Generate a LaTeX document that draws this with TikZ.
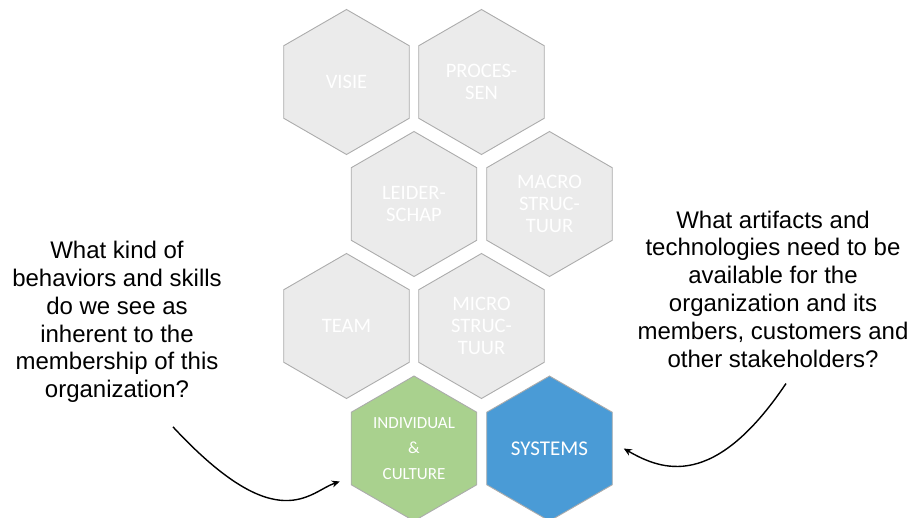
\documentclass[tikz,border=0pt]{standalone}
\usepackage{fontspec}
\setmainfont{Liberation Sans}
\newfontfamily\hexfont{Carlito}
\usetikzlibrary{shapes.geometric,arrows.meta}
\definecolor{hexgrey}{RGB}{235,235,235}
\definecolor{hexedge}{RGB}{172,172,172}
\definecolor{culturegreen}{RGB}{169,209,142}
\definecolor{systemsblue}{RGB}{74,155,214}

\begin{document}
\begin{tikzpicture}[x=1pt, y=-1pt,
    hexcell/.style={regular polygon, regular polygon sides=6, shape border rotate=30, minimum size=145pt, inner sep=0pt, draw=hexedge, line width=0.9pt, text=white, align=center, font=\hexfont\fontsize{20.5}{22.4}\selectfont},
    greyhex/.style={hexcell, fill=hexgrey},
    question/.style={align=center, inner sep=0pt, font=\fontsize{24}{27.8}\selectfont},
    pointer/.style={-{Stealth[length=8pt,width=7pt]}, line width=1.4pt}
  ]
    \useasboundingbox (0,0) rectangle (916,517);

    % Hexagon grid
    \node[greyhex] (visie) at (346.5,82) {VISIE};
    \node[greyhex] (processen) at (481.5,82) {PROCES-\\SEN};

    \node[greyhex] (leiderschap) at (414,204) {LEIDER-\\SCHAP};
    \node[greyhex] (macro) at (549.5,204) {MACRO\\STRUC-\\TUUR};

    \node[greyhex] (team) at (346.5,326) {TEAM};
    \node[greyhex] (micro) at (481.5,326) {MICRO\\STRUC-\\TUUR};

    \node[hexcell, fill=culturegreen, font=\hexfont\fontsize{17}{25.5}\selectfont] (individual) at (414,448.5) {INDIVIDUAL\\\&\\CULTURE};
    \node[hexcell, fill=systemsblue, font=\hexfont\fontsize{21}{24}\selectfont] (systems) at (549.5,448.5) {SYSTEMS};

    % Questions
    \node[question] (qculture) at (117,322) {What kind of\\behaviors and skills\\do we see as\\inherent to the\\membership of this\\organization?};
    \node[question] (qsystems) at (773,289) {What artifacts and\\technologies need to be\\available for the\\organization and its\\members, customers and\\other stakeholders?};

    % Arrows
    \draw[pointer] ([shift={(56,24)}]qculture.south) .. controls +(105,113) and +(-30,10) .. ([shift={(-11,33)}]individual.west);
    \draw[pointer] ([shift={(13,16)}]qsystems.south) .. controls +(-72,107) and +(38,22) .. ([xshift=11pt]systems.east);
\end{tikzpicture}
\end{document}
